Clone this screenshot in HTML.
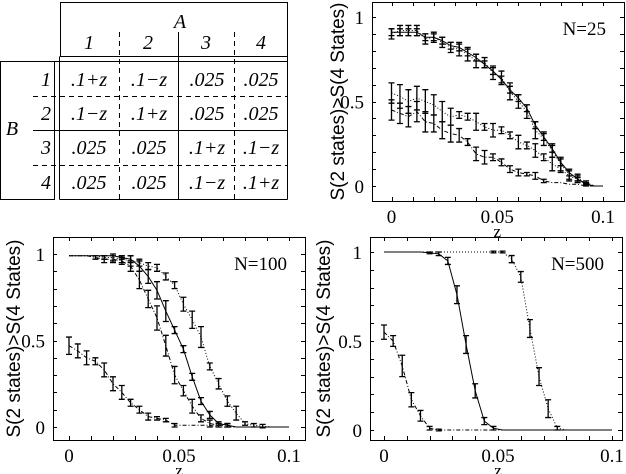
<!DOCTYPE html>
<html><head><meta charset="utf-8">
<style>
html,body{margin:0;padding:0;background:#fff;}
svg{display:block;}
text{font-family:"Liberation Serif",serif;fill:#000;}
.it{font-style:italic;}
</style></head>
<body>
<svg id="root" width="626" height="474" viewBox="0 0 626 474" xmlns="http://www.w3.org/2000/svg">
<g id="table" stroke="#000" stroke-width="1" fill="none">
  <rect x="60.5" y="2.5" width="227" height="54"/>
  <line x1="54.5" y1="61.5" x2="287.5" y2="61.5"/>
  <rect x="0.5" y="61.5" width="54" height="138"/>
  <line x1="59.5" y1="56.5" x2="59.5" y2="199.5"/>
  <line x1="59.5" y1="199.5" x2="287.5" y2="199.5"/>
  <line x1="287.5" y1="56.5" x2="287.5" y2="199.5"/>
  <line x1="119.5" y1="32" x2="119.5" y2="199" stroke-dasharray="5,4"/>
  <line x1="178.5" y1="32" x2="178.5" y2="199"/>
  <line x1="234.5" y1="32" x2="234.5" y2="199" stroke-dasharray="5,4"/>
  <line x1="33" y1="96.5" x2="287" y2="96.5" stroke-dasharray="5,4"/>
  <line x1="33" y1="130.5" x2="287" y2="130.5"/>
  <line x1="33" y1="165.5" x2="287" y2="165.5" stroke-dasharray="5,4"/>
</g>
<g font-size="20" text-anchor="middle">
  <text x="180" y="28" class="it">A</text>
  <text x="89" y="49" class="it">1</text>
  <text x="148" y="49" class="it">2</text>
  <text x="206" y="49" class="it">3</text>
  <text x="261" y="49" class="it">4</text>
  <text x="12" y="135" class="it">B</text>
  <text x="46" y="86" class="it">1</text>
  <text x="46" y="120" class="it">2</text>
  <text x="46" y="154" class="it">3</text>
  <text x="46" y="189" class="it">4</text>
</g>
<g id="cells" font-size="20" text-anchor="middle"></g>
<g id="plots"></g>
</svg>
<script>
const cellValues=[[".1+z",".1−z",".025",".025"],[".1−z",".1+z",".025",".025"],[".025",".025",".1+z",".1−z"],[".025",".025",".1−z",".1+z"]];
const zValues=[0,0.004,0.008,0.012,0.016,0.02,0.024,0.028,0.032,0.036,0.04,0.044,0.048,0.052,0.056,0.06,0.064,0.068,0.072,0.076,0.08,0.084,0.088,0.092,0.096,0.1];
const xTickLabels=["0","0.05","0.1"];
const yTickLabels=["0","0.5","1"];
// N=25
const n25Solid=[0.91,0.91,0.91,0.91,0.88,0.88,0.86,0.83,0.82,0.79,0.76,0.72,0.68,0.63,0.57,0.52,0.46,0.36,0.29,0.22,0.14,0.08,0.04,0.01,0,0];
const n25Dotted=[0.90,0.92,0.92,0.92,0.87,0.88,0.85,0.82,0.81,0.78,0.74,0.73,0.67,0.64,0.56,0.50,0.44,0.33,0.28,0.21,0.13,0.07,0.05,0.01,0,0];
const n25LowDot=[0.55,0.53,0.50,0.52,0.50,0.48,0.44,0.41,0.42,0.41,0.38,0.35,0.33,0.33,0.30,0.26,0.24,0.21,0.17,0.13,0.10,0.06,0.04,0.02,0,0];
const n25LowDash=[0.45,0.43,0.41,0.44,0.38,0.37,0.33,0.31,0.30,0.26,0.19,0.17,0.17,0.14,0.10,0.08,0.07,0.06,0.03,0.02,0.02,0.01,0.01,0,0,0];
const n25ErrSolid=[0.02,0.02,0.02,0.02,0.02,0.02,0.02,0.02,0.02,0.02,0.02,0.02,0.02,0.02,0.02,0.02,0.02,0.02,0.02,0.02,0.02,0.02,0.01,0.005,0,0];
const n25ErrDotted=[0.03,0.03,0.03,0.03,0.03,0.03,0.03,0.03,0.04,0.04,0.04,0.03,0.04,0.04,0.05,0.04,0.04,0.05,0.04,0.04,0.04,0.03,0.02,0.01,0,0];
const n25ErrLowDot=[0.06,0.07,0.07,0.07,0.07,0.06,0.06,0.05,0.02,0.02,0.05,0.02,0.04,0.02,0.02,0.04,0.02,0.04,0.02,0.04,0.02,0.03,0.02,0.01,0,0];
const n25ErrLowDash=[0.06,0.06,0.06,0.06,0.06,0.05,0.05,0.05,0.04,0.02,0.04,0.04,0.02,0.02,0.02,0.02,0.01,0.02,0.01,0,0,0,0,0,0,0];
// N=100
const n100Solid=[0.99,0.99,0.99,0.99,0.99,0.99,0.98,0.97,0.93,0.87,0.79,0.67,0.56,0.45,0.29,0.15,0.07,0.02,0.01,0,0,0,0,0,0,0];
const n100DotA=[0.99,0.99,0.99,0.98,0.97,0.97,0.96,0.93,0.85,0.74,0.63,0.47,0.30,0.21,0.12,0.05,0.02,0.01,0.01,0,0,0,0,0,0,0];
const n100DotB=[0.99,0.99,0.99,0.99,0.98,0.98,0.97,0.96,0.95,0.93,0.92,0.87,0.82,0.71,0.62,0.52,0.35,0.25,0.15,0.08,0.02,0.01,0.005,0,0,0];
const n100Dash=[0.47,0.44,0.40,0.38,0.33,0.25,0.20,0.14,0.10,0.06,0.05,0.04,0.01,0.01,0.01,0.01,0.01,0,0,0,0,0,0,0,0,0];
const n100ErrSolid=[0,0,0,0,0,0,0.01,0.02,0.03,0.04,0.05,0.06,0.02,0.02,0.02,0.02,0.02,0.01,0.01,0,0,0,0,0,0,0];
const n100ErrDotA=[0,0,0,0.01,0.02,0.02,0.02,0.03,0.05,0.05,0.07,0.06,0.05,0.03,0.04,0.02,0.02,0.01,0.01,0,0,0,0,0,0,0];
const n100ErrDotB=[0,0,0,0,0.01,0.02,0.02,0.03,0.02,0.02,0.02,0.02,0.02,0.04,0.05,0.06,0.02,0.03,0.03,0.04,0.01,0.01,0.01,0,0,0];
const n100ErrDash=[0.05,0.04,0.04,0.02,0.04,0.04,0.04,0.02,0.02,0.02,0.01,0.01,0.01,0,0,0,0,0,0,0,0,0,0,0,0,0];
// N=500
const n500Solid=[1,1,1,1,1,0.995,0.99,0.95,0.76,0.48,0.22,0.05,0.01,0,0,0,0,0,0,0,0,0,0,0,0,0];
const n500Dot=[1,1,1,1,1,1,1,1,1,1,1,1,1,1,0.96,0.86,0.57,0.30,0.12,0.01,0,0,0,0,0,0];
const n500Dash=[0.55,0.50,0.36,0.17,0.08,0.01,0,0,0,0,0,0,0,0,0,0,0,0,0,0,0,0,0,0,0,0];
const n500ErrSolid=[0,0,0,0,0,0.005,0.01,0.02,0.05,0.05,0.04,0.02,0.01,0,0,0,0,0,0,0,0,0,0,0,0,0];
const n500ErrDot=[0,0,0,0,0,0,0,0,0,0,0,0,0.005,0.005,0.02,0.03,0.05,0.05,0.05,0.01,0,0,0,0,0,0];
const n500ErrDash=[0.04,0.03,0.06,0.04,0.03,0.01,0.005,0,0,0,0,0,0,0,0,0,0,0,0,0,0,0,0,0,0,0];

const NS="http://www.w3.org/2000/svg";
function mk(tag,attrs,parent){const e=document.createElementNS(NS,tag);for(const k in attrs)e.setAttribute(k,attrs[k]);parent.appendChild(e);return e;}

const cells=document.getElementById('cells');
const colX=[89,149,207,261],rowY=[86,120,154,189];
cellValues.forEach((row,r)=>row.forEach((v,c)=>{
  const t=mk('text',{x:colX[c],y:rowY[r],class:'it'},cells);
  
  
  t.textContent=v;
}));

const plots=document.getElementById('plots');
function plot(cfg){
  const g=mk('g',{},plots);
  
  
  const X=z=>cfg.x0+(cfg.x1-cfg.x0)*z/0.1;
  const Y=v=>cfg.y0+(cfg.y1-cfg.y0)*v;
  const box=mk('rect',{x:cfg.bx+0.5,y:cfg.by+0.5,width:cfg.bw,height:cfg.bh,fill:'none',stroke:'#000','stroke-width':1},g);
  
  
  for(let i=0;i<=10;i++){
    const y=Math.round(Y(i/10))+0.5;
    const t1=mk('line',{x1:cfg.bx,y1:y,x2:cfg.bx+4,y2:y,stroke:'#000'},g);
    
    
    const t2=mk('line',{x1:cfg.bx+cfg.bw-4,y1:y,x2:cfg.bx+cfg.bw,y2:y,stroke:'#000'},g);
    
    
  }
  for(let i=0;i<=10;i++){
    const x=Math.round(X(i/100))+0.5;
    const t1=mk('line',{x1:x,y1:cfg.by,x2:x,y2:cfg.by+4,stroke:'#000'},g);
    
    
    const t2=mk('line',{x1:x,y1:cfg.by+cfg.bh-4,x2:x,y2:cfg.by+cfg.bh,stroke:'#000'},g);
    
    
  }
  yTickLabels.forEach((l,i)=>{
    const t=mk('text',{x:cfg.bx-8,y:Y(i*0.5)+7,'text-anchor':'end','font-size':19},g);
    
    
    t.textContent=l;
  });
  xTickLabels.forEach((l,i)=>{
    const t=mk('text',{x:X(i*0.05),y:cfg.by+cfg.bh+22,'text-anchor':'middle','font-size':19},g);
    
    
    t.textContent=l;
  });
  const xl=mk('text',{x:X(0.05),y:cfg.by+cfg.bh+36,'text-anchor':'middle','font-size':17},g);
  
  
  xl.textContent='z';
  const yl=mk('text',{x:0,y:0,'text-anchor':'middle','font-size':19,transform:'translate('+cfg.ylx+','+(cfg.by+cfg.bh/2)+') rotate(-90)'},g);
  
  
  yl.style.fontFamily='"Liberation Sans",sans-serif';
  yl.textContent='S(2 states)>S(4 States)';
  const nt=mk('text',{x:cfg.bx+cfg.bw-18,y:cfg.by+33,'text-anchor':'end','font-size':19},g);
  
  
  nt.textContent=cfg.label;
  cfg.series.forEach(s=>{
    const sg=mk('g',{},g);
    
    
    const pts=s.v.map((v,i)=>X(zValues[i]).toFixed(1)+','+Y(v).toFixed(1)).join(' ');
    const pl=mk('polyline',{points:pts,fill:'none',stroke:'#000','stroke-width':1,'stroke-dasharray':s.dash||''},sg);
    
    
    s.v.forEach((v,i)=>{
      const e=s.e[i];
      const x=X(zValues[i]);
      if(e<=0.002) return;
      const d='M'+x+' '+Y(v-e)+'V'+Y(v+e)+'M'+(x-3)+' '+Y(v-e)+'h6M'+(x-3)+' '+Y(v+e)+'h6';
      const eb=mk('path',{d:d,stroke:'#000','stroke-width':1.3,fill:'none'},sg);
      
      
    });
  });
}
plot({name:'plot-n25',label:'N=25',bx:372,by:2,bw:252,bh:199,x0:391.5,x1:603,y0:186,y1:17,ylx:344,
  series:[{name:'n25-solid',v:n25Solid,e:n25ErrSolid},{name:'n25-dotted',v:n25Dotted,e:n25ErrDotted,dash:'1,2'},
          {name:'n25-low-dotted',v:n25LowDot,e:n25ErrLowDot,dash:'1,2'},{name:'n25-low-dashed',v:n25LowDash,e:n25ErrLowDash,dash:'4,2,1,2'}]});
plot({name:'plot-n100',label:'N=100',bx:53,by:237,bw:252,bh:203,x0:69,x1:289,y0:427,y1:254,ylx:20,
  series:[{name:'n100-solid',v:n100Solid,e:n100ErrSolid},{name:'n100-dotted-a',v:n100DotA,e:n100ErrDotA,dash:'4,2,1,2'},
          {name:'n100-dotted-b',v:n100DotB,e:n100ErrDotB,dash:'1,2'},{name:'n100-dashed',v:n100Dash,e:n100ErrDash,dash:'4,2,1,2'}]});
plot({name:'plot-n500',label:'N=500',bx:370,by:237,bw:252,bh:203,x0:384,x1:612,y0:430,y1:252,ylx:330,
  series:[{name:'n500-solid',v:n500Solid,e:n500ErrSolid},{name:'n500-dotted',v:n500Dot,e:n500ErrDot,dash:'1,2'},
          {name:'n500-dashed',v:n500Dash,e:n500ErrDash,dash:'4,2,1,2'}]});
</script>
</body></html>
